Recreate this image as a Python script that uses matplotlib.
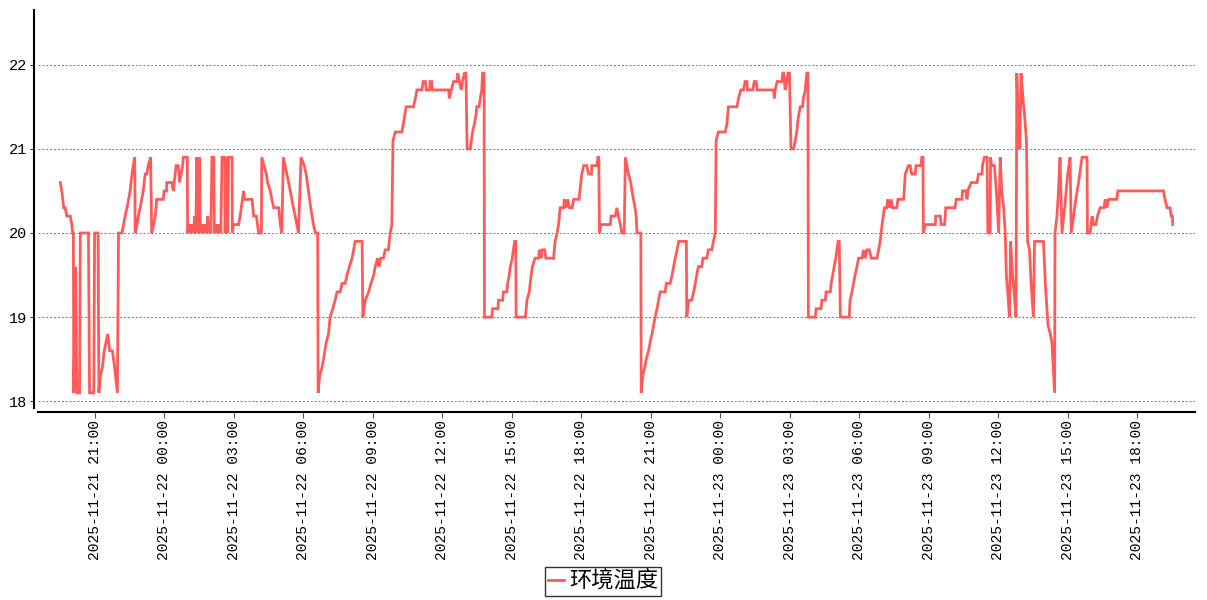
import matplotlib
matplotlib.use("Agg")
import matplotlib.pyplot as plt
import matplotlib.dates as mdates
from matplotlib.font_manager import FontProperties
import pandas as pd

# ---- data -------------------------------------------------------------
start_time = "2025-11-21 19:30"
series_name = "环境温度"

# minutes elapsed since start_time
minutes = [
    0, 4, 9, 13, 17, 26, 30, 32, 34, 35, 40, 43, 50, 52, 73, 76, 87, 89, 98, 100,
    104, 109, 114, 123, 128, 135, 141, 148, 151, 160, 164, 168, 173, 177, 181, 186, 189, 193, 194, 199,
    202, 207, 211, 215, 220, 224, 228, 234, 237, 242, 246, 250, 267, 269, 275, 276, 289, 293, 300, 306,
    309, 313, 317, 319, 329, 330, 333, 335, 338, 341, 343, 346, 348, 351, 354, 356, 359, 361, 363, 367,
    369, 372, 374, 377, 379, 382, 385, 387, 390, 393, 398, 399, 403, 405, 408, 411, 413, 416, 419, 426,
    427, 431, 434, 436, 445, 446, 449, 462, 466, 475, 477, 497, 501, 508, 514, 521, 522, 528, 534, 537,
    544, 548, 553, 566, 570, 574, 578, 587, 596, 600, 604, 613, 617, 624, 632, 637, 643, 649, 656, 661,
    667, 668, 672, 678, 682, 689, 695, 699, 706, 712, 717, 725, 730, 738, 743, 749, 756, 760, 764, 782,
    784, 787, 790, 799, 805, 812, 816, 822, 826, 830, 837, 842, 850, 855, 859, 862, 868, 885, 889, 896,
    915, 920, 924, 937, 940, 946, 948, 957, 958, 962, 964, 1006, 1008, 1013, 1019, 1028, 1030, 1034, 1039, 1042,
    1047, 1051, 1054, 1062, 1065, 1068, 1073, 1077, 1079, 1085, 1088, 1092, 1094, 1098, 1099, 1118, 1120, 1134, 1135, 1146,
    1148, 1157, 1159, 1163, 1166, 1171, 1174, 1177, 1180, 1181, 1205, 1209, 1215, 1220, 1223, 1230, 1239, 1241, 1246, 1248,
    1255, 1258, 1278, 1282, 1287, 1291, 1295, 1304, 1306, 1310, 1315, 1319, 1326, 1330, 1344, 1351, 1356, 1364, 1369, 1376,
    1377, 1390, 1393, 1395, 1397, 1401, 1425, 1427, 1438, 1442, 1446, 1451, 1455, 1461, 1464, 1468, 1472, 1478, 1481, 1485,
    1489, 1492, 1494, 1504, 1505, 1509, 1514, 1518, 1524, 1528, 1533, 1537, 1541, 1546, 1550, 1554, 1567, 1570, 1580, 1585,
    1589, 1593, 1598, 1602, 1622, 1623, 1628, 1636, 1641, 1645, 1649, 1653, 1662, 1665, 1675, 1679, 1688, 1692, 1697, 1699,
    1705, 1723, 1727, 1731, 1753, 1757, 1763, 1770, 1774, 1779, 1780, 1794, 1798, 1803, 1805, 1848, 1850, 1852, 1857, 1869,
    1872, 1874, 1878, 1882, 1885, 1889, 1893, 1900, 1904, 1908, 1910, 1913, 1917, 1923, 1925, 1930, 1934, 1937, 1938, 1956,
    1958, 1971, 1973, 1982, 1984, 1995, 1997, 2001, 2005, 2009, 2012, 2015, 2018, 2021, 2044, 2046, 2051, 2055, 2059, 2064,
    2068, 2077, 2081, 2085, 2090, 2096, 2101, 2116, 2120, 2124, 2129, 2135, 2141, 2144, 2148, 2153, 2156, 2167, 2170, 2185,
    2189, 2197, 2202, 2206, 2215, 2217, 2230, 2232, 2235, 2236, 2241, 2267, 2268, 2280, 2282, 2291, 2294, 2318, 2321, 2336,
    2337, 2346, 2349, 2351, 2360, 2375, 2379, 2388, 2389, 2394, 2401, 2403, 2409, 2410, 2413, 2420, 2425, 2431, 2435, 2439,
    2444, 2448, 2451, 2456, 2459, 2462, 2467, 2471, 2476, 2478, 2482, 2486, 2489, 2494, 2498, 2503, 2506, 2511, 2515, 2521,
    2524, 2547, 2552, 2556, 2559, 2565, 2569, 2576, 2577, 2582, 2586, 2590, 2595, 2602, 2606, 2610, 2616, 2619, 2625, 2631,
    2638, 2647, 2660, 2661, 2668, 2673, 2677, 2683, 2687, 2694, 2704, 2707, 2711, 2716, 2737, 2740, 2858, 2862, 2867, 2875,
    2878, 2881, 2882,
]

temperature = [
    20.6, 20.5, 20.3, 20.3, 20.2, 20.2, 20.1, 20.0, 20.0, 18.1, 19.6, 18.1, 18.1, 20.0, 20.0, 18.1, 18.1, 20.0, 20.0, 18.1,
    18.3, 18.4, 18.6, 18.8, 18.6, 18.6, 18.4, 18.1, 20.0, 20.0, 20.1, 20.2, 20.3, 20.4, 20.5, 20.7, 20.8, 20.9, 20.0, 20.1,
    20.2, 20.3, 20.4, 20.5, 20.7, 20.7, 20.8, 20.9, 20.0, 20.1, 20.2, 20.4, 20.4, 20.5, 20.5, 20.6, 20.6, 20.5, 20.8, 20.8,
    20.6, 20.7, 20.8, 20.9, 20.9, 20.0, 20.1, 20.0, 20.1, 20.0, 20.1, 20.0, 20.2, 20.0, 20.9, 20.0, 20.1, 20.9, 20.0, 20.1,
    20.0, 20.1, 20.0, 20.1, 20.0, 20.2, 20.0, 20.1, 20.0, 20.9, 20.9, 20.0, 20.1, 20.0, 20.1, 20.0, 20.1, 20.0, 20.9, 20.9,
    20.0, 20.9, 20.0, 20.9, 20.9, 20.0, 20.1, 20.1, 20.2, 20.5, 20.4, 20.4, 20.2, 20.2, 20.0, 20.0, 20.9, 20.8, 20.7, 20.6,
    20.5, 20.4, 20.3, 20.3, 20.1, 20.0, 20.9, 20.7, 20.5, 20.4, 20.3, 20.1, 20.0, 20.9, 20.8, 20.7, 20.5, 20.3, 20.1, 20.0,
    20.0, 18.1, 18.3, 18.4, 18.5, 18.7, 18.8, 19.0, 19.1, 19.2, 19.3, 19.3, 19.4, 19.4, 19.5, 19.6, 19.7, 19.8, 19.9, 19.9,
    19.0, 19.1, 19.2, 19.3, 19.4, 19.5, 19.6, 19.7, 19.6, 19.7, 19.7, 19.8, 19.8, 20.0, 20.1, 21.1, 21.2, 21.2, 21.3, 21.5,
    21.5, 21.6, 21.7, 21.7, 21.8, 21.8, 21.7, 21.7, 21.8, 21.8, 21.7, 21.7, 21.6, 21.7, 21.8, 21.8, 21.9, 21.8, 21.7, 21.8,
    21.9, 21.9, 21.0, 21.0, 21.1, 21.2, 21.3, 21.4, 21.5, 21.5, 21.6, 21.7, 21.9, 21.9, 19.0, 19.0, 19.1, 19.1, 19.2, 19.2,
    19.3, 19.3, 19.4, 19.5, 19.6, 19.7, 19.8, 19.9, 19.9, 19.0, 19.0, 19.2, 19.3, 19.5, 19.6, 19.7, 19.7, 19.8, 19.7, 19.8,
    19.8, 19.7, 19.7, 19.9, 20.0, 20.1, 20.3, 20.3, 20.4, 20.3, 20.4, 20.3, 20.3, 20.4, 20.4, 20.7, 20.8, 20.8, 20.7, 20.7,
    20.8, 20.8, 20.9, 20.9, 20.0, 20.1, 20.1, 20.2, 20.2, 20.3, 20.2, 20.1, 20.0, 20.0, 20.9, 20.8, 20.7, 20.6, 20.5, 20.4,
    20.3, 20.2, 20.0, 20.0, 18.1, 18.3, 18.4, 18.5, 18.6, 18.7, 18.8, 18.9, 19.0, 19.1, 19.2, 19.3, 19.3, 19.4, 19.4, 19.5,
    19.6, 19.7, 19.8, 19.9, 19.9, 19.0, 19.2, 19.2, 19.3, 19.4, 19.5, 19.6, 19.6, 19.7, 19.7, 19.8, 19.8, 19.9, 20.0, 21.1,
    21.2, 21.2, 21.3, 21.5, 21.5, 21.6, 21.7, 21.7, 21.8, 21.8, 21.7, 21.7, 21.8, 21.8, 21.7, 21.7, 21.6, 21.7, 21.8, 21.8,
    21.9, 21.9, 21.7, 21.8, 21.9, 21.9, 21.0, 21.0, 21.1, 21.2, 21.3, 21.4, 21.5, 21.5, 21.6, 21.7, 21.9, 21.9, 19.0, 19.0,
    19.1, 19.1, 19.2, 19.2, 19.3, 19.3, 19.4, 19.5, 19.6, 19.7, 19.8, 19.9, 19.9, 19.0, 19.0, 19.2, 19.3, 19.4, 19.5, 19.6,
    19.7, 19.7, 19.8, 19.7, 19.8, 19.8, 19.7, 19.7, 19.8, 19.9, 20.1, 20.3, 20.3, 20.4, 20.3, 20.4, 20.3, 20.3, 20.4, 20.4,
    20.7, 20.8, 20.8, 20.7, 20.7, 20.8, 20.8, 20.9, 20.9, 20.0, 20.1, 20.1, 20.2, 20.2, 20.1, 20.1, 20.3, 20.3, 20.4, 20.4,
    20.5, 20.5, 20.4, 20.5, 20.6, 20.6, 20.7, 20.7, 20.8, 20.9, 20.9, 20.0, 20.0, 20.9, 20.8, 20.8, 20.5, 20.0, 20.9, 20.5,
    20.3, 20.0, 19.5, 19.2, 19.0, 19.9, 19.5, 19.3, 19.0, 21.9, 21.3, 21.0, 21.9, 21.6, 21.4, 21.1, 19.9, 19.8, 19.4, 19.0,
    19.9, 19.9, 19.4, 19.1, 18.9, 18.8, 18.7, 18.1, 20.0, 20.2, 20.5, 20.9, 20.0, 20.3, 20.5, 20.7, 20.9, 20.0, 20.2, 20.4,
    20.6, 20.9, 20.9, 20.0, 20.0, 20.2, 20.1, 20.1, 20.2, 20.3, 20.3, 20.4, 20.3, 20.4, 20.4, 20.5, 20.5, 20.4, 20.3, 20.3,
    20.2, 20.2, 20.1,
]

y_ticks = [18, 19, 20, 21, 22]

# ---- figure -----------------------------------------------------------
plt.rcParams["font.family"] = ["Liberation Mono", "Noto Sans CJK SC", "DejaVu Sans"]

times = pd.Timestamp(start_time) + pd.to_timedelta(minutes, unit="m")

fig = plt.figure(figsize=(12.07, 6.0), dpi=100)
ax = fig.add_axes([38 / 1207, 1 - 408 / 600, (1195 - 38) / 1207, (408 - 10) / 600])

ax.plot(times, temperature, color="#ff5a5a", linewidth=2.0, label=series_name,
        solid_joinstyle="miter")

ax.set_ylim(17.92, 22.65)
ax.margins(x=0.02)
ax.set_yticks(y_ticks)
ax.set_yticklabels([str(v) for v in y_ticks])

ax.xaxis.set_major_locator(mdates.HourLocator(byhour=range(0, 24, 3)))
ax.xaxis.set_major_formatter(mdates.DateFormatter("%Y-%m-%d %H:%M"))

ax.tick_params(axis="x", labelsize=10.5, length=4, width=0.8, color="#555555",
               pad=2, labelrotation=90)
ax.tick_params(axis="y", labelsize=11, length=3, width=0.8, color="#333333", pad=2)

ax.grid(axis="y", linestyle=(0, (2, 2)), color="#777777", linewidth=0.7)
ax.set_axisbelow(True)

for side in ("top", "right"):
    ax.spines[side].set_visible(False)
for side in ("left", "bottom"):
    ax.spines[side].set_linewidth(1.5)
    ax.spines[side].set_color("black")
    ax.spines[side].set_position(("outward", 3))

leg = fig.legend(loc="center", bbox_to_anchor=(603 / 1207, 1 - 581.5 / 600),
                 prop=FontProperties(family=["Noto Sans CJK SC"], size=16),
                 frameon=True, fancybox=False, edgecolor="black",
                 handlelength=0.7, handletextpad=0.25, borderpad=0.15,
                 borderaxespad=0.0)
leg.get_frame().set_linewidth(1.0)

fig.savefig("out.png", dpi=100)
